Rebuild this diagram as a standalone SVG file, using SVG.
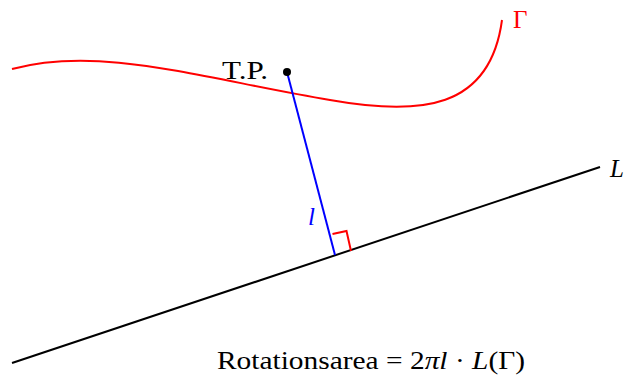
<svg xmlns="http://www.w3.org/2000/svg" width="625" height="379" viewBox="0 0 625 379">
<style>
text{font-family:'Liberation Serif','Times New Roman','DejaVu Serif',serif;font-size:25px}
.it{font-style:italic}
.ln{fill:none;stroke-width:2}
</style>
<rect width="625" height="379" fill="#fff"/>
<g id="connectors">
<path class="ln" stroke="#000" d="M12,363 L600,167"/>
<path class="ln" stroke="#f00" d="M12,69 C100,45 200,78 330,100 C420,116 490,110 502,20"/>
<path class="ln" stroke="#00f" d="M287,72 L335,255"/>
<path class="ln" stroke="#f00" stroke-width="1.8" d="M332.5,234 L346.5,231 L351,251"/>
</g>
<g id="tp">
<circle cx="287" cy="72" r="4" fill="#000"/>
<text x="222" y="79" textLength="46" lengthAdjust="spacingAndGlyphs">T.P.</text>
</g>
<g id="gamma"><text x="513" y="28" fill="#f00">Γ</text></g>
<g id="L"><text x="610" y="177" class="it">L</text></g>
<g id="l"><text x="308" y="225" class="it" fill="#00f">l</text></g>
<g id="formula"><text x="217" y="369" textLength="308" lengthAdjust="spacingAndGlyphs">Rotationsarea = 2<tspan class="it">πl</tspan> · <tspan class="it">L</tspan>(Γ)</text></g>
</svg>
